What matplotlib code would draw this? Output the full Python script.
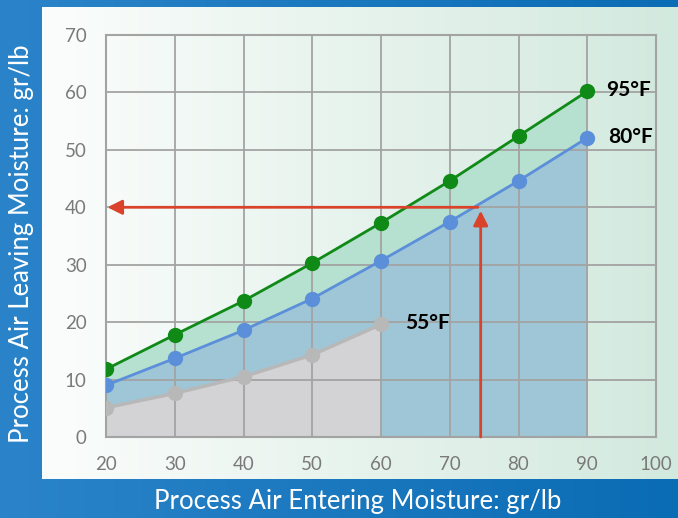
import numpy as np
import matplotlib.pyplot as plt
from matplotlib.colors import LinearSegmentedColormap

# data
x_all = [20, 30, 40, 50, 60, 70, 80, 90]
t95 = [11.8, 17.8, 23.7, 30.3, 37.3, 44.6, 52.4, 60.2]
t80 = [9.0, 13.7, 18.6, 24.1, 30.7, 37.5, 44.6, 52.1]
x55 = [20, 30, 40, 50, 60]
t55 = [5.1, 7.6, 10.5, 14.3, 19.6]
arrow_x = 74.5
arrow_y = 40

plt.rcParams['font.family'] = ['Lato', 'DejaVu Sans']

fig = plt.figure(figsize=(6.78, 5.18), dpi=100)

# blue frame background
bg = fig.add_axes([0, 0, 1, 1], zorder=-3)
grad = np.linspace(0, 1, 256).reshape(1, -1)
blue_cm = LinearSegmentedColormap.from_list('b', ['#2b84c9', '#0a6cb4'])
bg.imshow(grad, aspect='auto', cmap=blue_cm, extent=[0, 1, 0, 1])
bg.axis('off')

# light panel with white -> green gradient
panel = fig.add_axes([42/678, 1 - 479/518, 636/678, 472/518], zorder=-2)
green_cm = LinearSegmentedColormap.from_list('g', ['#fbfdfc', '#d2e9de'])
panel.imshow(grad, aspect='auto', cmap=green_cm, extent=[0, 1, 0, 1])
panel.axis('off')

ax = fig.add_axes([106/678, 1 - 437/518, 550/678, 402/518])
ax.set_facecolor('none')

ax.fill_between(x_all, 0, t80, color='#9ec6d6', lw=0, zorder=1)
ax.fill_between(x_all, t80, t95, color='#b6e0cf', lw=0, zorder=1)
ax.fill_between(x55, 0, t55, color='#d3d3d5', lw=0, zorder=1.2)

ax.plot(x_all, t95, color='#0f8a17', lw=2, marker='o', ms=10, zorder=4)
ax.plot(x_all, t80, color='#5b8fd9', lw=2, marker='o', ms=10, zorder=4)
ax.plot(x55, t55, color='#b8b8b8', lw=2.5, marker='o', ms=10, zorder=4)

# red arrows
ax.annotate('', xy=(arrow_x, arrow_y - 0.6), xytext=(arrow_x, 0),
            arrowprops=dict(arrowstyle='-|>', color='#d9432c', lw=2,
                            mutation_scale=22, shrinkA=0, shrinkB=0), zorder=5)
ax.annotate('', xy=(20.2, arrow_y), xytext=(arrow_x - 0.4, arrow_y),
            arrowprops=dict(arrowstyle='-|>', color='#d9432c', lw=2,
                            mutation_scale=22, shrinkA=0, shrinkB=0), zorder=5)

ax.text(92.7, 60.4, '95°F', fontsize=15, fontweight='bold', va='center', ha='left')
ax.text(93.0, 52.3, '80°F', fontsize=15, fontweight='bold', va='center', ha='left')
ax.text(63.5, 19.8, '55°F', fontsize=15, fontweight='bold', va='center', ha='left')

ax.set_xlim(20, 100)
ax.set_ylim(0, 70)
ax.set_xticks(range(20, 101, 10))
ax.set_yticks(range(0, 71, 10))
ax.grid(True, color='#a3a3a3', lw=1.3)
ax.set_axisbelow(False)
for ln in ax.get_xgridlines() + ax.get_ygridlines():
    ln.set_zorder(2)
for sp in ax.spines.values():
    sp.set_color('#a3a3a3')
    sp.set_linewidth(1.5)
ax.tick_params(length=0, labelsize=13.5, colors='#7a7a7a', pad=14)
ax.tick_params(axis='y', pad=14)

fig.text(358/678, 1 - 501/518, 'Process Air Entering Moisture: gr/lb',
         color='white', fontsize=18.5, ha='center', va='center')
fig.text(22/678, 1 - 244/518, 'Process Air Leaving Moisture: gr/lb',
         color='white', fontsize=18.5, ha='center', va='center', rotation=90)

fig.savefig('out.png', dpi=100)
